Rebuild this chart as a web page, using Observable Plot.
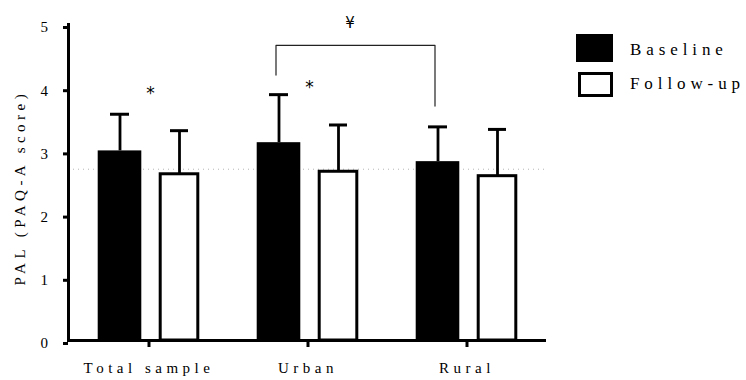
<!DOCTYPE html>
<html><head><meta charset="utf-8">
<script src="https://cdn.jsdelivr.net/npm/d3@7"></script>
<script src="https://cdn.jsdelivr.net/npm/@observablehq/plot@0.6"></script>
<style>
body{margin:0;background:#fff}
#wrap{position:relative;width:746px;height:380px;overflow:hidden}
#wrap svg text{letter-spacing:4.5px;font-family:"Liberation Serif",serif}
#wrap svg .sig text{font-family:"DejaVu Sans",sans-serif;letter-spacing:0}
.legbox{position:absolute;box-sizing:border-box}
.legtxt{position:absolute;font-family:"Liberation Serif",serif;font-size:17px;letter-spacing:4.9px;color:#000;line-height:1;white-space:nowrap}
</style></head><body><div id="wrap"></div>
<script>
const categories = ["Total sample", "Urban", "Rural"];
const baselineMean = [3.00, 3.13, 2.83];
const baselineSD = [0.58, 0.76, 0.55];
const followupMean = [2.63, 2.67, 2.60];
const followupSD = [0.69, 0.74, 0.74];
const yTicks = [0, 1, 2, 3, 4, 5];
const refLine = [2.71];
const starCategories = ["Total sample", "Urban"];
const starY = [3.9, 4.0];
const bracketX = ["Urban", "Urban", "Rural", "Rural"];
const bracketY = [4.2, 4.67, 4.67, 3.71];
const yenLabel = "¥";
const yenY = [5.02];
const legendLabels = ["Baseline", "Follow-up"];
const yLabel = "PAL (PAQ-A score)";

const base = categories.map((c, i) => ({c, m: baselineMean[i], top: baselineMean[i] + baselineSD[i]}));
const foll = categories.map((c, i) => ({c, m: followupMean[i], top: followupMean[i] + followupSD[i]}));
const font = "Liberation Serif";

const chart = Plot.plot({
  width: 746, height: 380,
  marginLeft: 68, marginRight: 200, marginTop: 24, marginBottom: 40,
  style: {fontFamily: font, fontSize: "15px", color: "#000", background: "#fff"},
  x: {type: "band", domain: categories, padding: 0, axis: null},
  y: {domain: [0, 5], axis: null},
  marks: [
    Plot.ruleY(refLine, {stroke: "#b5b5b5", strokeWidth: 1, strokeDasharray: "1,4"}),
    // error bars
    Plot.ruleX(base, {x: "c", y1: "m", y2: "top", dx: -29, stroke: "#000", strokeWidth: 2.8}),
    Plot.tickY(base, {x: "c", y: "top", insetLeft: 41, insetRight: 99, stroke: "#000", strokeWidth: 3}),
    Plot.ruleX(foll, {x: "c", y1: "m", y2: "top", dx: 30.5, stroke: "#000", strokeWidth: 2.8}),
    Plot.tickY(foll, {x: "c", y: "top", insetLeft: 101, insetRight: 40, stroke: "#000", strokeWidth: 3}),
    // bars
    Plot.barY(base, {x: "c", y: "m", fill: "#000", insetLeft: 28.7, insetRight: 86.7}),
    Plot.barY(foll, {x: "c", y: "m", fill: "#fff", stroke: "#000", strokeWidth: 3, insetLeft: 91.2, insetRight: 30.2}),
    // axes
    Plot.ruleY([0], {stroke: "#000", strokeWidth: 3}),
    Plot.frame({anchor: "left", stroke: "#000", strokeWidth: 3}),
    Plot.axisY(yTicks, {tickSize: 5, tickPadding: 11, strokeWidth: 3, fontSize: 15, fontFamily: font, dy: 3, tickFormat: d => d, label: null}),
    Plot.axisX(categories, {tickSize: 7, tickPadding: 15, strokeWidth: 3, fontSize: 15, fontFamily: font, label: null}),
    Plot.text([yLabel], {frameAnchor: "left", textAnchor: "middle", y: [2.42], dx: -48, rotate: -90, fontSize: 15, fontFamily: font, fill: "#000"}),
    // significance marks
    Plot.text(starCategories.map((c, i) => ({c, y: starY[i]})), {x: "c", y: "y", text: () => "*", dx: 1.5, fontSize: 17, className: "sig"}),
    Plot.line(bracketX.map((c, i) => ({c, y: bracketY[i]})), {x: "c", y: "y", dx: -32, stroke: "#222", strokeWidth: 1.2}),
    Plot.text(yenY.map(y => ({c: "Urban", y})), {x: "c", y: "y", text: () => yenLabel, dx: 42, fontSize: 15, className: "sig"})
  ]
});
const wrap = document.getElementById("wrap");
wrap.appendChild(chart);

// legend
const b1 = document.createElement("div");
b1.className = "legbox";
Object.assign(b1.style, {left: "576px", top: "34px", width: "37px", height: "28px", background: "#000"});
const b2 = document.createElement("div");
b2.className = "legbox";
Object.assign(b2.style, {left: "578px", top: "72px", width: "35px", height: "25px", border: "3px solid #000", background: "#fff"});
wrap.appendChild(b1); wrap.appendChild(b2);
legendLabels.forEach((t, i) => {
  const d = document.createElement("div");
  d.className = "legtxt";
  d.textContent = t;
  Object.assign(d.style, {left: "630px", top: (i === 0 ? 41 : 75) + "px"});
  wrap.appendChild(d);
});
</script></body></html>
